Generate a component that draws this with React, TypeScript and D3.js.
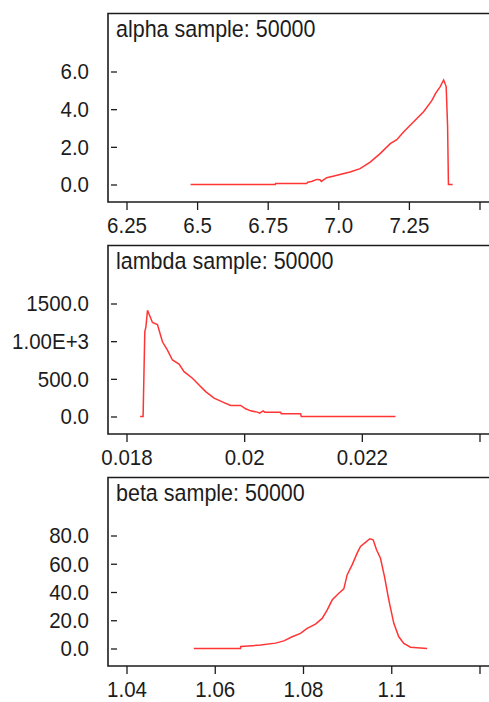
import React, { useEffect, useRef } from 'react';
import * as d3 from 'd3';

// titles of the three density panels
const titles = ['alpha sample: 50000', 'lambda sample: 50000', 'beta sample: 50000'];

// alpha density
const alphaX = [6.477, 6.777, 6.778, 6.888, 6.892, 6.905, 6.924, 6.935, 6.94, 6.959, 6.985, 7.006, 7.042, 7.077, 7.113, 7.148, 7.184, 7.207, 7.231, 7.266, 7.302, 7.331, 7.345, 7.361, 7.373, 7.382, 7.387, 7.390, 7.405];
const alphaY = [0, 0, 0.05, 0.05, 0.12, 0.16, 0.27, 0.25, 0.16, 0.36, 0.45, 0.53, 0.66, 0.84, 1.19, 1.64, 2.17, 2.38, 2.79, 3.32, 3.86, 4.45, 4.85, 5.2, 5.55, 5.2, 3.1, 0, 0];
const alphaXTicks = [6.25, 6.5, 6.75, 7.0, 7.25, 7.5];
const alphaXLabels = ['6.25', '6.5', '6.75', '7.0', '7.25', ''];
const alphaYTicks = [0, 2, 4, 6];
const alphaYLabels = ['0.0', '2.0', '4.0', '6.0'];

// lambda density
const lambdaX = [0.018231, 0.018282, 0.018311, 0.01833, 0.018357, 0.018441, 0.018526, 0.018611, 0.018696, 0.018781, 0.018893, 0.018978, 0.019121, 0.019233, 0.019346, 0.019488, 0.019657, 0.019771, 0.019941, 0.020025, 0.02011, 0.020224, 0.020265, 0.020322, 0.02035, 0.02062, 0.02063, 0.02096, 0.02097, 0.022572];
const lambdaY = [0, 0, 1124, 1190, 1411, 1249, 1222, 992, 882, 750, 697, 595, 508, 419, 331, 243, 185, 146, 146, 102, 75, 58, 45, 75, 58, 58, 36, 36, 0, 0];
const lambdaXTicks = [0.018, 0.02, 0.022, 0.024];
const lambdaXLabels = ['0.018', '0.02', '0.022', ''];
const lambdaYTicks = [0, 500, 1000, 1500];
const lambdaYLabels = ['0.0', '500.0', '1.00E+3', '1500.0'];

// beta density
const betaX = [1.05525, 1.06584, 1.0659, 1.07037, 1.07377, 1.07566, 1.07755, 1.07943, 1.08094, 1.08283, 1.08434, 1.08547, 1.0866, 1.08811, 1.08925, 1.09, 1.09113, 1.09227, 1.09303, 1.09416, 1.09514, 1.0959, 1.09666, 1.09756, 1.09847, 1.09945, 1.10058, 1.10171, 1.10285, 1.10436, 1.10814];
const betaY = [0, 0, 1.4, 2.4, 3.8, 5.4, 8.3, 10.7, 14.2, 17.3, 21.3, 27.2, 34.3, 39.1, 42.2, 52.1, 59.2, 67.5, 72.2, 75.1, 77.7, 77, 69.9, 63.9, 50.9, 34.3, 17.8, 8.3, 3.6, 0.9, 0];
const betaXTicks = [1.04, 1.06, 1.08, 1.1, 1.12];
const betaXLabels = ['1.04', '1.06', '1.08', '1.1', ''];
const betaYTicks = [0, 20, 40, 60, 80];
const betaYLabels = ['0.0', '20.0', '40.0', '60.0', '80.0'];

const panels = [
    { xs: alphaX, ys: alphaY, xt: alphaXTicks, xl: alphaXLabels, yt: alphaYTicks, yl: alphaYLabels },
    { xs: lambdaX, ys: lambdaY, xt: lambdaXTicks, xl: lambdaXLabels, yt: lambdaYTicks, yl: lambdaYLabels },
    { xs: betaX, ys: betaY, xt: betaXTicks, xl: betaXLabels, yt: betaYTicks, yl: betaYLabels },
];

const App = () => {
    const svgRef = useRef<SVGSVGElement>(null);

    useEffect(() => {
        const svg = d3.select(svgRef.current);
        svg.selectAll('*').remove();

        const font = '"Liberation Sans", Arial, sans-serif';
        const ink = '#1c1c1c';
        const boxLeft = 108;
        const boxH = 188.5;
        // the original text is a little taller than it is wide
        const stretch = 'scale(1,1.12)';

        panels.forEach((p, i) => {
            const top = 13.5 + i * 232;
            const g = svg.append('g');

            const x = d3.scaleLinear()
                .domain([p.xt[0], p.xt[p.xt.length - 1]])
                .range([126.5, 479.5]);
            const y = d3.scaleLinear()
                .domain([0, p.yt[p.yt.length - 1]])
                .range([top + 171, top + 58]);

            // frame: top, left, bottom (right side runs off the page)
            g.append('path')
                .attr('d', `M500,${top}H${boxLeft}V${top + boxH}H500`)
                .attr('fill', 'none')
                .attr('stroke', ink)
                .attr('stroke-width', 1.6);

            const xAxis = g.append('g')
                .attr('transform', `translate(0,${top + boxH})`)
                .call(d3.axisBottom(x)
                    .tickValues(p.xt)
                    .tickFormat((_, k) => p.xl[k])
                    .tickSizeInner(8)
                    .tickSizeOuter(0)
                    .tickPadding(5));
            xAxis.select('.domain').remove();
            xAxis.selectAll('line').attr('stroke', ink).attr('stroke-width', 1.3);
            xAxis.selectAll('text')
                .attr('font-size', 20.5)
                .attr('font-family', font)
                .attr('fill', ink)
                .attr('transform', stretch);

            const yAxis = g.append('g')
                .attr('transform', `translate(117,0)`)
                .call(d3.axisLeft(y)
                    .tickValues(p.yt)
                    .tickFormat((_, k) => p.yl[k])
                    .tickSizeInner(6)
                    .tickSizeOuter(0)
                    .tickPadding(22));
            yAxis.select('.domain').remove();
            yAxis.selectAll('line').attr('stroke', ink).attr('stroke-width', 1.3);
            yAxis.selectAll('text')
                .attr('font-size', 20.5)
                .attr('font-family', font)
                .attr('fill', ink)
                .attr('transform', stretch);

            g.append('text')
                .attr('transform', `translate(116,${top + 23.5}) ${stretch}`)
                .attr('font-size', 21.5)
                .attr('font-family', font)
                .attr('fill', ink)
                .text(titles[i]);

            const line = d3.line<number>()
                .x((_, k) => x(p.xs[k]))
                .y(d => y(d));

            g.append('path')
                .attr('d', line(p.ys))
                .attr('fill', 'none')
                .attr('stroke', '#ff3535')
                .attr('stroke-width', 1.5);
        });
    }, []);

    return (
        <svg ref={svgRef} width={489} height={702}
            style={{ position: 'absolute', left: 0, top: 0, background: '#fff' }} />
    );
};

export default App;
